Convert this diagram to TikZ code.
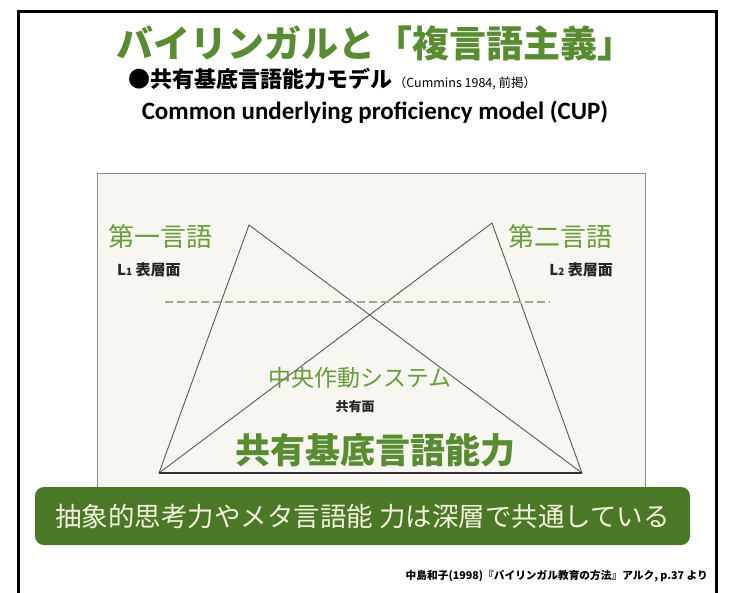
\documentclass[tikz,border=0pt]{standalone}
\usepackage{fontspec}
\setmainfont{Noto Sans CJK JP}
\newfontfamily\calfont{Carlito}
\definecolor{titlegreen}{RGB}{88,140,48}
\definecolor{labelgreen}{RGB}{102,158,58}
\definecolor{boxgreen}{RGB}{74,120,38}
\definecolor{boxtext}{RGB}{242,242,220}
\definecolor{innerbg}{RGB}{247,246,240}
\definecolor{dashgreen}{RGB}{150,170,140}
\tikzset{
  tri/.style={draw=black!65, line width=0.9pt},
  baseline/.style={draw=black!80, line width=1.6pt},
  greenlabel/.style={text=labelgreen, inner sep=0pt},
  blacklabel/.style={text=black!85, inner sep=0pt, font=\fontsize{15}{16}\selectfont\bfseries},
}
\begin{document}
\begin{tikzpicture}[x=1pt,y=-1pt]
\useasboundingbox (0,0) rectangle (731,592);
\fill[white] (0,0) rectangle (731,592);
% outer frame
\draw[line width=3pt] (18,600) -- (18,11) -- (716,11) -- (716,600);
% headings
\node[text=titlegreen, inner sep=0pt, font=\fontsize{37}{40}\selectfont\bfseries] (title) at (375,43) {バイリンガルと「複言語主義」};
\node[anchor=west, inner sep=0pt] (sub) at (128,79) {{\fontsize{22}{24}\selectfont\bfseries ●共有基底言語能力モデル}\,{\fontsize{12.5}{14}\selectfont （Cummins 1984, 前掲）}};
\node[inner sep=0pt, font=\calfont\fontsize{25}{28}\selectfont\bfseries] (cup) at (375,112) {Common underlying proficiency model (CUP)};
% inner panel
\draw[draw=black!45, fill=innerbg, line width=0.8pt] (97,173) rectangle (645,495);
% triangles
\coordinate (A) at (159,473);
\coordinate (B) at (249,225);
\coordinate (C) at (582,473);
\coordinate (D) at (492,223);
\draw[tri] (A) -- (B) -- (C);
\draw[tri] (A) -- (D) -- (C);
\draw[baseline] (A) -- (C);
% dashed line
\coordinate (d1) at (165,302);
\coordinate (d2) at (550,302);
\draw[dashgreen, line width=1.2pt, dash pattern=on 8pt off 4pt] (d1) -- (d2);
% labels
\node[greenlabel, anchor=west, font=\fontsize{26}{28}\selectfont] (l1) at (108,237) {第一言語};
\node[blacklabel, anchor=west] (l1s) at (117,270) {L{\fontsize{10}{10}\selectfont 1} 表層面};
\node[greenlabel, anchor=east, font=\fontsize{26}{28}\selectfont] (l2) at (613,237) {第二言語};
\node[blacklabel, anchor=east] (l2s) at (613,270) {L{\fontsize{10}{10}\selectfont 2} 表層面};
\node[greenlabel, font=\fontsize{23}{25}\selectfont] (cos) at (360,378) {中央作動システム};
\node[blacklabel, font=\fontsize{13}{14}\selectfont\bfseries] (share) at (355,407) {共有面};
\node[text=titlegreen, inner sep=0pt, font=\fontsize{35}{38}\selectfont\bfseries] (cup2) at (375,450) {共有基底言語能力};
% message box
\node[fill=boxgreen, rounded corners=9pt, minimum width=655pt, minimum height=58pt, inner sep=0pt, text=boxtext, font=\fontsize{26.5}{28}\selectfont] (msg) at (362.5,516) {抽象的思考力やメタ言語能 力は深層で共通している};
% citation
\node[anchor=east, inner sep=0pt, font=\fontsize{10.7}{12}\selectfont\bfseries] (cite) at (708,576) {中島和子(1998)『バイリンガル教育の方法』アルク, p.37 より};
\end{tikzpicture}
\end{document}
